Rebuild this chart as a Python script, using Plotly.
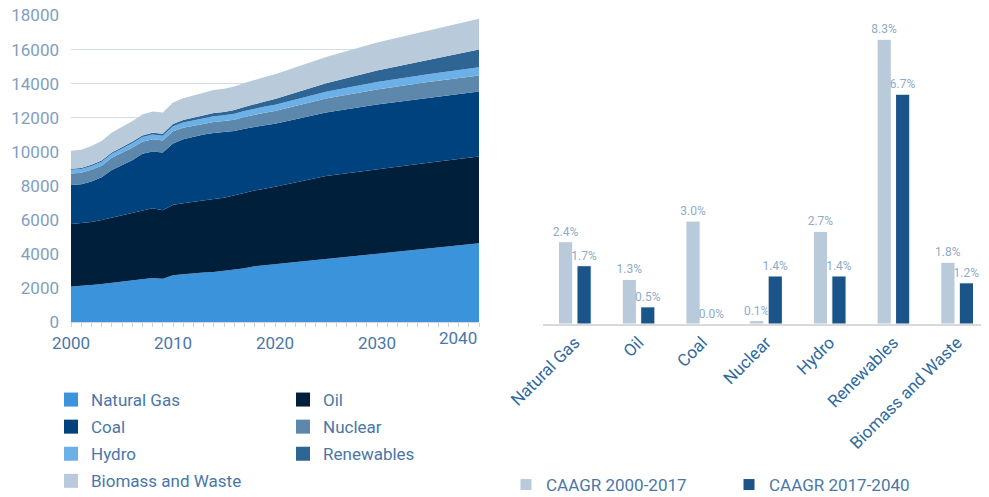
import plotly.graph_objects as go

# ---- Left chart data (Mtoe-like units), stacked layers ----
years = [2000, 2001, 2002, 2003, 2004, 2005, 2006, 2007, 2008, 2009, 2010,
         2011, 2012, 2013, 2014, 2015, 2016, 2017, 2018, 2019, 2020,
         2025, 2030, 2035, 2040]
natural_gas = [2080, 2110, 2170, 2230, 2300, 2360, 2420, 2510, 2590, 2540, 2740,
               2800, 2860, 2900, 2930, 2990, 3060, 3150, 3270, 3330, 3400,
               3700, 3980, 4290, 4620]
oil = [3670, 3690, 3710, 3760, 3830, 3920, 3960, 4040, 4090, 4030, 4140,
       4180, 4210, 4250, 4290, 4300, 4380, 4440, 4450, 4500, 4540,
       4880, 5000, 5060, 5100]
coal = [2300, 2290, 2370, 2510, 2800, 2940, 3120, 3330, 3340, 3390, 3600,
        3750, 3810, 3860, 3880, 3850, 3770, 3760, 3750, 3730, 3710,
        3720, 3800, 3830, 3820]
nuclear = [670, 680, 690, 680, 710, 720, 730, 710, 710, 700, 720,
           680, 640, 640, 650, 660, 670, 690, 710, 730, 740,
           820, 880, 920, 940]
hydro = [225, 220, 225, 230, 245, 255, 265, 270, 280, 280, 295,
         300, 315, 325, 335, 335, 345, 350, 355, 360, 370,
         400, 430, 455, 480]
renewables = [55, 60, 65, 70, 75, 80, 90, 100, 110, 120, 135,
              150, 165, 180, 195, 205, 220, 240, 270, 300, 330,
              500, 680, 850, 1040]
biomass = [1050, 1070, 1110, 1150, 1170, 1190, 1210, 1230, 1240, 1240, 1260,
           1280, 1300, 1320, 1340, 1360, 1380, 1400, 1420, 1440, 1460,
           1550, 1650, 1730, 1810]

series_names = ["Natural Gas", "Oil", "Coal", "Nuclear", "Hydro", "Renewables", "Biomass and Waste"]
series_values = [natural_gas, oil, coal, nuclear, hydro, renewables, biomass]
series_colors = ["#3a93db", "#001f3a", "#00427e", "#5d88ac", "#6cb0e8", "#2e6595", "#b9cbdb"]

x_tick_vals = [2000, 2010, 2020, 2030]
y_tick_vals = [0, 2000, 4000, 6000, 8000, 10000, 12000, 14000, 16000, 18000]

# ---- Right chart data ----
categories = ["Natural Gas", "Oil", "Coal", "Nuclear", "Hydro", "Renewables", "Biomass and Waste"]
caagr_2000_2017 = [2.4, 1.3, 3.0, 0.1, 2.7, 8.3, 1.8]
caagr_2017_2040 = [1.7, 0.5, 0.0, 1.4, 1.4, 6.7, 1.2]
bar_names = ["CAAGR 2000-2017", "CAAGR 2017-2040"]
bar_colors = ["#b9cadb", "#1a5489"]

FONT = "Roboto"
TXT = "#4a77a8"
YTXT = "#7f9ec0"
# page body has an 8px margin, so the figure is sized to fit the window
W, H = 981, 489
OFF = 8


def px_x(x):
    return (x - OFF) / W


def px_y(y):
    return (H - (y - OFF)) / H


fig = go.Figure()

# stacked areas
for name, vals, col in zip(series_names, series_values, series_colors):
    fig.add_trace(go.Scatter(
        x=years, y=vals, name=name, stackgroup="energy", mode="lines",
        line=dict(width=0, color=col), fillcolor=col, showlegend=False,
        xaxis="x", yaxis="y", hoverinfo="x+y+name"))

# legend entries for areas (two columns)
col1 = ["Natural Gas", "Coal", "Hydro", "Biomass and Waste"]
for name, col in zip(series_names, series_colors):
    fig.add_trace(go.Scatter(
        x=[None], y=[None], mode="markers", name=name,
        marker=dict(symbol="square", size=14, color=col),
        legend="legend" if name in col1 else "legend2",
        legendgroup=name, xaxis="x", yaxis="y", hoverinfo="skip"))

# bars
for name, vals, col in zip(bar_names, [caagr_2000_2017, caagr_2017_2040], bar_colors):
    fig.add_trace(go.Bar(
        x=categories, y=vals, name=name,
        marker=dict(color=col, line=dict(color="#ffffff", width=1)),
        texttemplate="%{y:.1f}%", textposition="outside", cliponaxis=False,
        constraintext="none",
        textfont=dict(family=FONT, size=12, color="#8eabc9"),
        legend="legend3", xaxis="x2", yaxis="y2"))

fig.update_layout(
    template="none",
    width=W, height=H,
    margin=dict(l=0, r=0, t=0, b=0, autoexpand=False),
    paper_bgcolor="white", plot_bgcolor="white",
    font=dict(family=FONT, color=TXT),
    barmode="group", bargap=0.42, bargroupgap=0.23,
    xaxis=dict(domain=[px_x(71), px_x(479)], range=[2000, 2040], tickvals=x_tick_vals,
               tickfont=dict(size=17, color=TXT), showgrid=False, zeroline=False,
               showline=True, linecolor="#d6d6d6", linewidth=1, automargin=False,
               ticks="outside", tickcolor="#d0d0d0", ticklen=4,
               minor=dict(ticks="outside", dtick=1, ticklen=4, tickcolor="#d0d0d0"),
               ticklabelstandoff=2, anchor="y"),
    yaxis=dict(domain=[px_y(322), px_y(15.5)], range=[0, 18000], tickvals=y_tick_vals,
               tickformat="d", ticklabeloverflow="allow",
               tickfont=dict(size=17, color=YTXT), showgrid=True, gridcolor="#d3dde8",
               gridwidth=1, zeroline=False, showline=False, ticks="", automargin=False,
               ticklabelstandoff=11, anchor="x"),
    xaxis2=dict(domain=[px_x(543), 1.0], anchor="y2", tickangle=-45, automargin=False,
                tickfont=dict(size=17, color="#2f6a9e"), showgrid=False, zeroline=False,
                showline=True, linecolor="#d9d9d9", linewidth=2, ticks=""),
    yaxis2=dict(domain=[px_y(324), px_y(15.3)], anchor="x2", range=[0, 9],
                visible=False, showgrid=False, zeroline=False, automargin=False),
    legend=dict(x=px_x(51), y=px_y(382), xanchor="left", yanchor="top",
                orientation="v", font=dict(size=17, color=TXT), tracegroupgap=2,
                itemsizing="trace", bgcolor="rgba(0,0,0,0)", borderwidth=0),
    legend2=dict(x=px_x(283), y=px_y(382), xanchor="left", yanchor="top",
                 orientation="v", font=dict(size=17, color=TXT), tracegroupgap=2,
                 itemsizing="trace", bgcolor="rgba(0,0,0,0)", borderwidth=0),
    legend3=dict(x=px_x(506), y=px_y(467), xanchor="left", yanchor="top",
                 orientation="h", font=dict(size=17, color=TXT), entrywidth=178,
                 entrywidthmode="pixels", bgcolor="rgba(0,0,0,0)", borderwidth=0),
    annotations=[dict(x=2040, y=0, xref="x", yref="y", text="2040", showarrow=False,
                      xanchor="right", yanchor="top", yshift=-4,
                      font=dict(family=FONT, size=17, color=TXT))],
)

fig.write_html("out.html")
